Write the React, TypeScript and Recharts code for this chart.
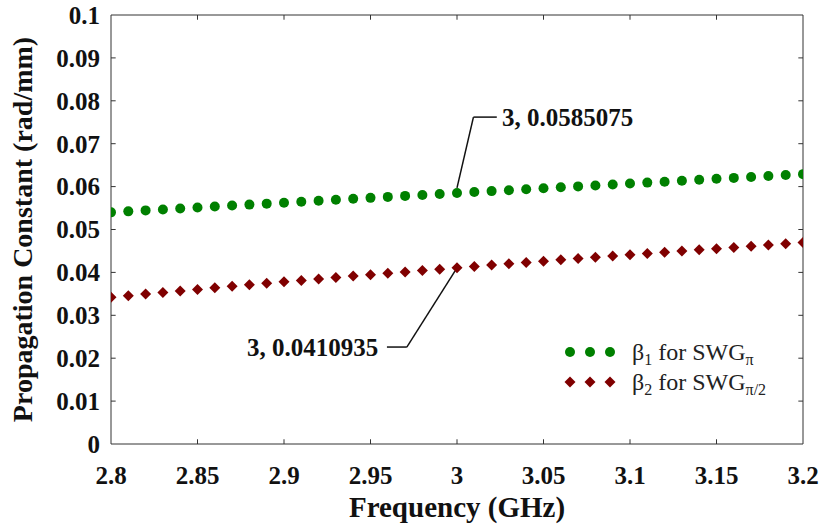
import React from "react";
import {
  ScatterChart,
  Scatter,
  XAxis,
  YAxis,
  ReferenceLine,
  ReferenceDot,
} from "recharts";

const freq = [
  2.8, 2.81, 2.82, 2.83, 2.84, 2.85, 2.86, 2.87, 2.88, 2.89, 2.9,
  2.91, 2.92, 2.93, 2.94, 2.95, 2.96, 2.97, 2.98, 2.99, 3.0,
  3.01, 3.02, 3.03, 3.04, 3.05, 3.06, 3.07, 3.08, 3.09, 3.1,
  3.11, 3.12, 3.13, 3.14, 3.15, 3.16, 3.17, 3.18, 3.19, 3.2,
];

const beta1 = [
  0.054, 0.05423, 0.05445, 0.05468, 0.0549, 0.05513, 0.05535, 0.05558, 0.0558, 0.05603, 0.05625,
  0.05648, 0.0567, 0.05693, 0.05715, 0.05738, 0.0576, 0.05783, 0.05805, 0.05828, 0.0585075,
  0.05873, 0.05895, 0.05917, 0.05939, 0.05961, 0.05983, 0.06005, 0.06027, 0.06049, 0.06071,
  0.06093, 0.06115, 0.06137, 0.06159, 0.06181, 0.06203, 0.06225, 0.06247, 0.06269, 0.0629,
];

const beta2 = [
  0.0342, 0.03458, 0.03495, 0.03532, 0.03568, 0.03604, 0.0364, 0.03675, 0.0371, 0.03745, 0.0378,
  0.03814, 0.03848, 0.03882, 0.03915, 0.03948, 0.0398, 0.04012, 0.04044, 0.04076, 0.0410935,
  0.0414, 0.04171, 0.04202, 0.04232, 0.04262, 0.04292, 0.04322, 0.04352, 0.04381, 0.0441,
  0.04439, 0.04468, 0.04497, 0.04526, 0.04554, 0.04582, 0.0461, 0.04638, 0.04665, 0.04695,
];

const xTicks = [2.8, 2.85, 2.9, 2.95, 3.0, 3.05, 3.1, 3.15, 3.2];
const xTickLabels = ["2.8", "2.85", "2.9", "2.95", "3", "3.05", "3.1", "3.15", "3.2"];
const yTicks = [0, 0.01, 0.02, 0.03, 0.04, 0.05, 0.06, 0.07, 0.08, 0.09, 0.1];
const yTickLabels = ["0", "0.01", "0.02", "0.03", "0.04", "0.05", "0.06", "0.07", "0.08", "0.09", "0.1"];

const green = "#008000";
const darkRed = "#800000";
const axisColor = "#333";
const font = "'Liberation Serif', 'Times New Roman', serif";

const series1 = freq.map((f, i) => ({ x: f, y: beta1[i] }));
const series2 = freq.map((f, i) => ({ x: f, y: beta2[i] }));

const Dot = (p: any) => <circle cx={p.cx} cy={p.cy} r={5} fill={green} />;
const Diamond = (p: any) => (
  <polygon
    points={`${p.cx},${p.cy - 5.5} ${p.cx + 5.5},${p.cy} ${p.cx},${p.cy + 5.5} ${p.cx - 5.5},${p.cy}`}
    fill={darkRed}
  />
);

const subStyle = { fontSize: 16, lineHeight: 0, verticalAlign: "-0.3em" } as const;

// legend drawn as an overlay so it does not take room from the plot
const LegendBox = () => (
  <div
    style={{
      position: "absolute",
      left: 560,
      top: 337,
      fontFamily: font,
      fontSize: 24,
      color: "#222",
    }}
  >
    <div style={{ display: "flex", alignItems: "center", height: 30 }}>
      <svg width={60} height={20}>
        {[10, 30, 50].map((cx) => (
          <circle key={cx} cx={cx} cy={10} r={5} fill={green} />
        ))}
      </svg>
      <span style={{ marginLeft: 12, lineHeight: "30px" }}>
        β<sub style={subStyle}>1</sub> for SWG<sub style={subStyle}>π</sub>
      </span>
    </div>
    <div style={{ display: "flex", alignItems: "center", height: 30 }}>
      <svg width={60} height={20}>
        {[10, 30, 50].map((cx) => (
          <polygon
            key={cx}
            points={`${cx},4.5 ${cx + 5.5},10 ${cx},15.5 ${cx - 5.5},10`}
            fill={darkRed}
          />
        ))}
      </svg>
      <span style={{ marginLeft: 12, lineHeight: "30px" }}>
        β<sub style={subStyle}>2</sub> for SWG<sub style={subStyle}>π/2</sub>
      </span>
    </div>
  </div>
);

const annoText = (label: string, anchor: "start" | "end") => (p: any) =>
  (
    <text
      x={p.cx}
      y={p.cy}
      dy="0.35em"
      textAnchor={anchor}
      fontFamily={font}
      fontWeight="bold"
      fontSize={25}
      fill="#111"
    >
      {label}
    </text>
  );

export default function App() {
  return (
    <div style={{ position: "absolute", left: 0, top: 0, width: 821, height: 528, background: "#fff" }}>
      <ScatterChart width={821} height={528} margin={{ top: 15, right: 18, bottom: 0, left: 0 }}>
        <XAxis
          type="number"
          dataKey="x"
          domain={[2.8, 3.2]}
          ticks={xTicks}
          tickFormatter={(v: number) => xTickLabels[xTicks.indexOf(v)] ?? String(v)}
          height={84}
          tickLine={false}
          tickSize={0}
          tickMargin={22}
          stroke={axisColor}
          tick={{ fontFamily: font, fontWeight: "bold", fontSize: 25, fill: "#111" }}
          label={{
            value: "Frequency (GHz)",
            position: "insideBottom",
            offset: 11,
            style: { fontFamily: font, fontWeight: "bold", fontSize: 29, fill: "#111" },
          }}
          allowDataOverflow
        />
        <YAxis
          type="number"
          dataKey="y"
          domain={[0, 0.1]}
          ticks={yTicks}
          tickFormatter={(v: number) => yTickLabels[yTicks.indexOf(v)] ?? String(v)}
          width={111}
          tickLine={false}
          tickSize={0}
          tickMargin={11}
          stroke={axisColor}
          tick={{ fontFamily: font, fontWeight: "bold", fontSize: 25, fill: "#111" }}
          label={{
            value: "Propagation Constant (rad/mm)",
            angle: -90,
            position: "insideLeft",
            offset: 22,
            style: { fontFamily: font, fontWeight: "bold", fontSize: 28, fill: "#111", textAnchor: "middle" },
          }}
          allowDataOverflow
        />
        <ReferenceLine y={0.1} stroke={axisColor} />
        <ReferenceLine x={3.2} stroke={axisColor} />
        {xTicks.slice(1, -1).map((t) => (
          <ReferenceLine key={"xb" + t} segment={[{ x: t, y: 0 }, { x: t, y: 0.0011 }]} stroke={axisColor} />
        ))}
        {xTicks.slice(1, -1).map((t) => (
          <ReferenceLine key={"xt" + t} segment={[{ x: t, y: 0.1 }, { x: t, y: 0.0989 }]} stroke={axisColor} />
        ))}
        {yTicks.slice(1, -1).map((t) => (
          <ReferenceLine key={"yl" + t} segment={[{ x: 2.8, y: t }, { x: 2.8027, y: t }]} stroke={axisColor} />
        ))}
        {yTicks.slice(1, -1).map((t) => (
          <ReferenceLine key={"yr" + t} segment={[{ x: 3.2, y: t }, { x: 3.1973, y: t }]} stroke={axisColor} />
        ))}
        <Scatter data={series1} shape={Dot} isAnimationActive={false} legendType="none" />
        <Scatter data={series2} shape={Diamond} isAnimationActive={false} legendType="none" />
        <ReferenceLine
          segment={[{ x: 3.0, y: 0.0597 }, { x: 3.0095, y: 0.0762 }]}
          stroke="#111"
          strokeWidth={1.5}
        />
        <ReferenceLine
          segment={[{ x: 3.0095, y: 0.0762 }, { x: 3.023, y: 0.0762 }]}
          stroke="#111"
          strokeWidth={1.5}
        />
        <ReferenceDot x={3.026} y={0.0762} shape={annoText("3, 0.0585075", "start")} />
        <ReferenceLine
          segment={[{ x: 2.999, y: 0.0404 }, { x: 2.971, y: 0.0226 }]}
          stroke="#111"
          strokeWidth={1.5}
        />
        <ReferenceLine
          segment={[{ x: 2.971, y: 0.0226 }, { x: 2.9595, y: 0.0226 }]}
          stroke="#111"
          strokeWidth={1.5}
        />
        <ReferenceDot x={2.9545} y={0.0226} shape={annoText("3, 0.0410935", "end")} />
      </ScatterChart>
      <LegendBox />
    </div>
  );
}
